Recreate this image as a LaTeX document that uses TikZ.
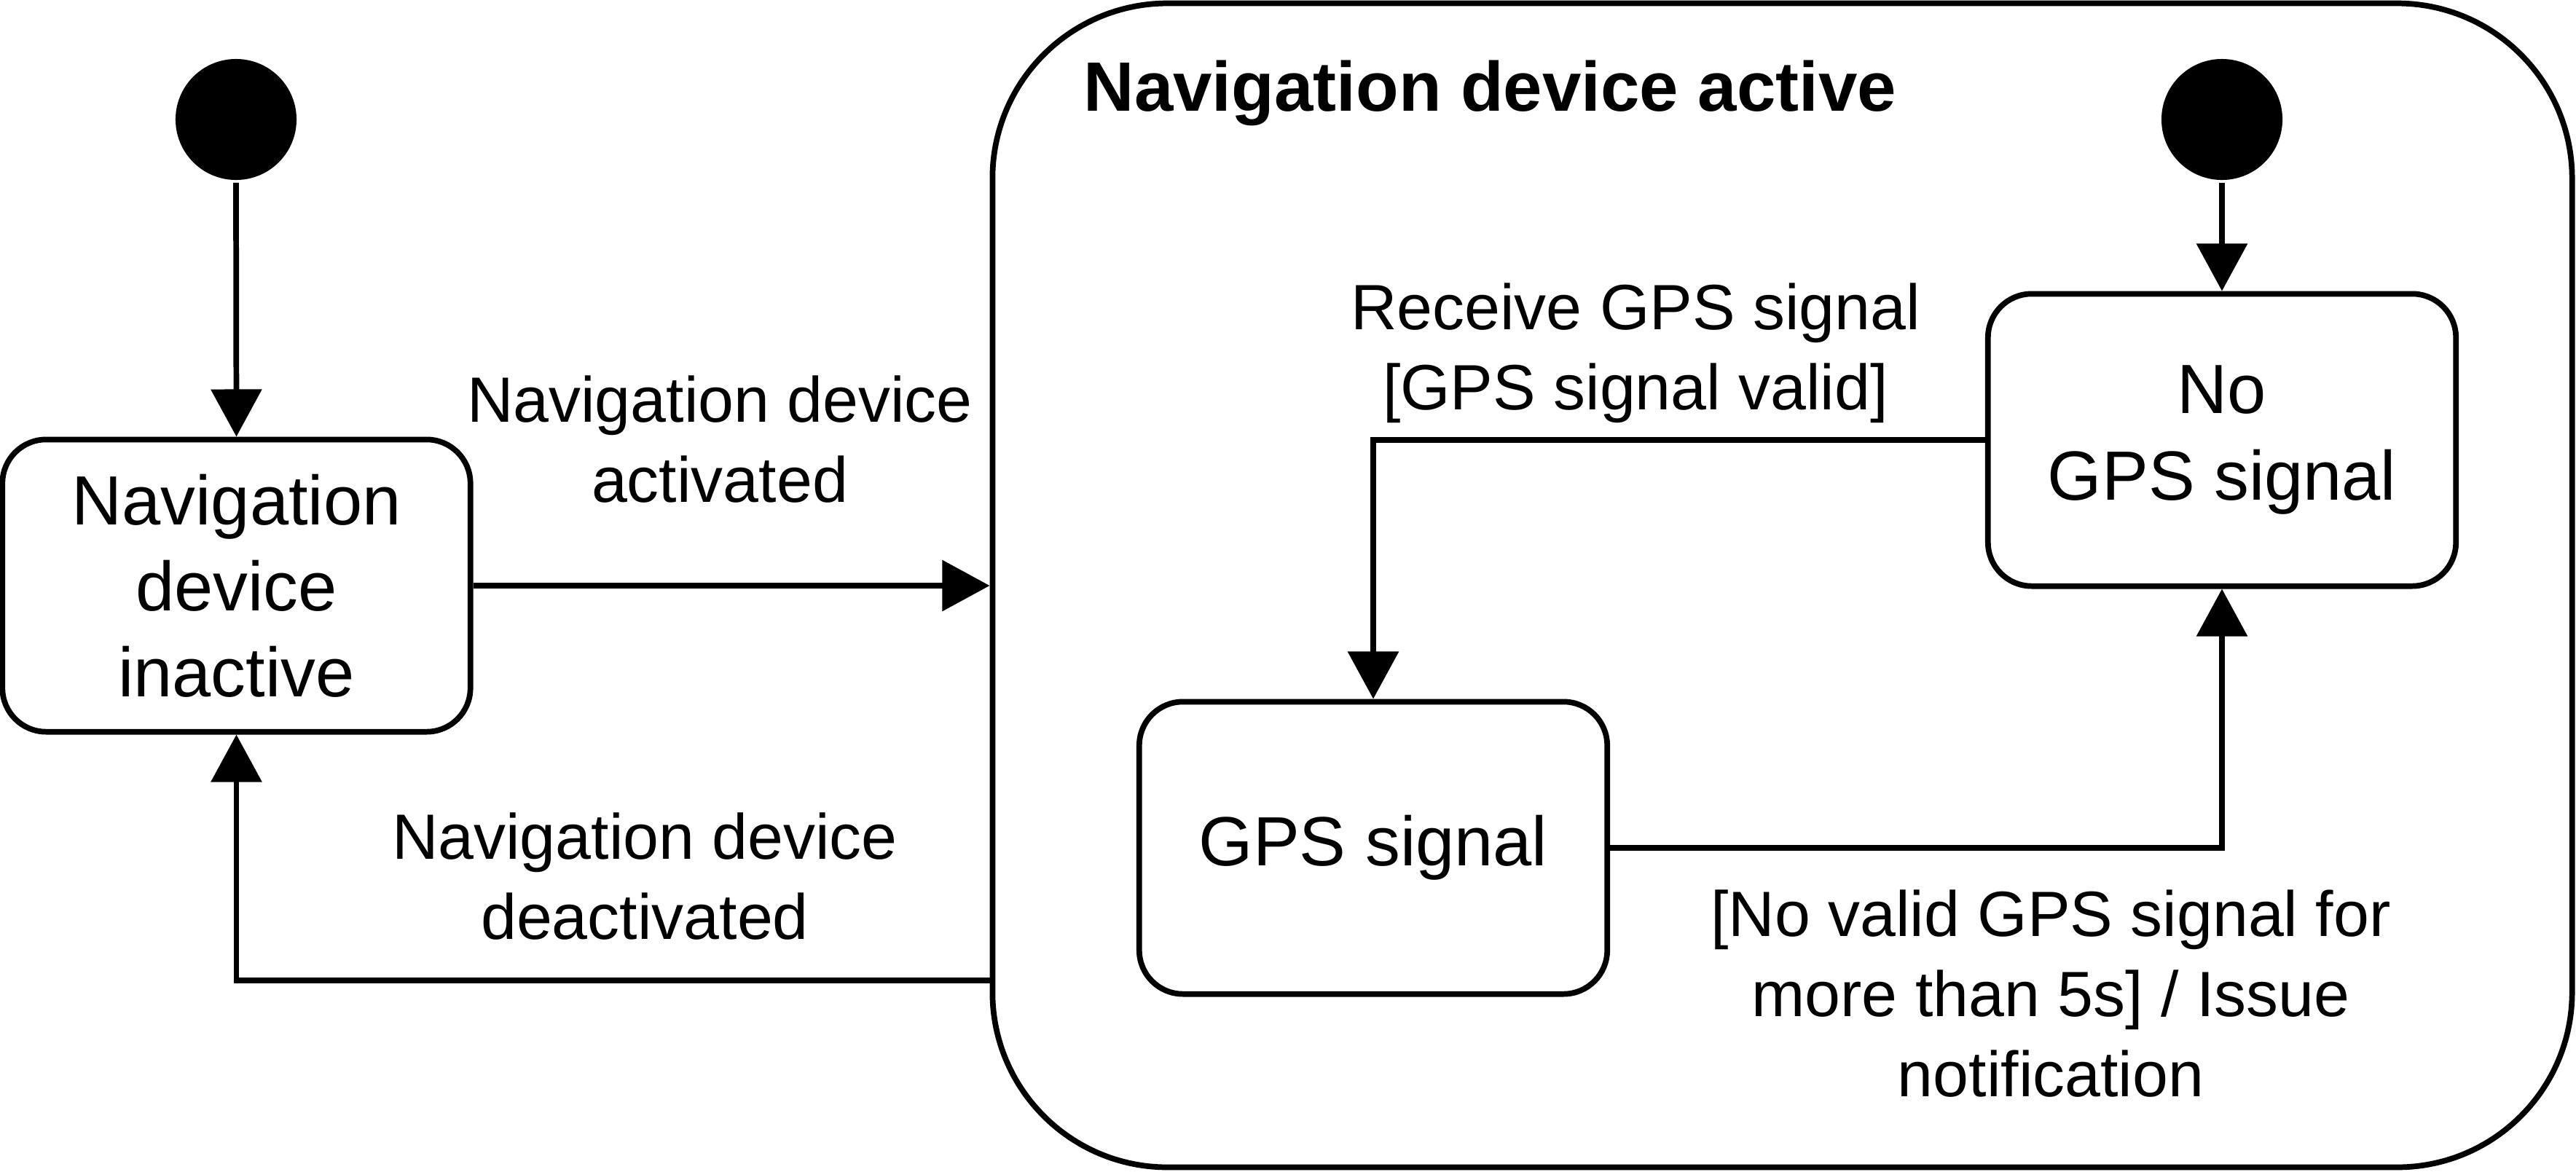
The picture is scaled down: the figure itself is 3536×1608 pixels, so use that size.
\documentclass[tikz,border=0pt]{standalone}
\usepackage{fontspec}
\setmainfont{Liberation Sans}
\usetikzlibrary{arrows.meta}

\begin{document}
\begin{tikzpicture}[x=0.01cm, y=-0.01cm, line width=2.2pt,
        state/.style={draw, rounded corners=0.6cm, align=center, minimum width=6.42cm, minimum height=4.01cm, font=\fontsize{27.2}{33.6}\selectfont},
        init/.style={circle, fill, minimum size=1.66cm, inner sep=0pt},
        trans/.style={-{Triangle[length=18.5pt, width=19.5pt]}},
        lbl/.style={align=center, font=\fontsize{25}{31.3}\selectfont}]
                \useasboundingbox (0,0) rectangle (3536,1608);
                \node[draw, rounded corners=2.4cm, minimum width=21.67cm, minimum height=15.97cm] (active) at (2446.5,803.5) {};
                \node[anchor=west, inner sep=0pt, font=\bfseries\fontsize{27.3}{33}\selectfont] (title) at (1484,128) {Navigation device active};
                \node[init] (start1) at (324,164) {};
                \node[init] (start2) at (3050,164) {};
                \node[state] (inactive) at (324.5,804) {Navigation\\device\\inactive};
                \node[state] (nogps) at (3050,604) {No\\GPS signal};
                \node[state] (gps) at (1885,1164) {GPS signal};
                \coordinate (leave) at (1363,1346);
                \draw[trans] (start1.south) -- (inactive.north);
                \draw[trans] (inactive.east) -- (inactive.east -| active.west);
                \draw[trans] (leave) -| (inactive.south);
                \draw[trans] (start2.south) -- (nogps.north);
                \draw[trans] (nogps.west) -| (gps.north);
                \draw[trans] (gps.east) -| (nogps.south);
                \node[lbl] (activated) at (988,603) {Navigation device\\activated};
                \node[lbl] (deactivated) at (885,1203) {Navigation device\\deactivated};
                \node[lbl] (receive) at (2245,485) {Receive GPS signal\\{[GPS signal valid]}};
                \node[lbl] (timeout) at (2815,1364) {{[No valid GPS signal for}\\more than 5s] / Issue\\notification};
            \end{tikzpicture}
\end{document}
